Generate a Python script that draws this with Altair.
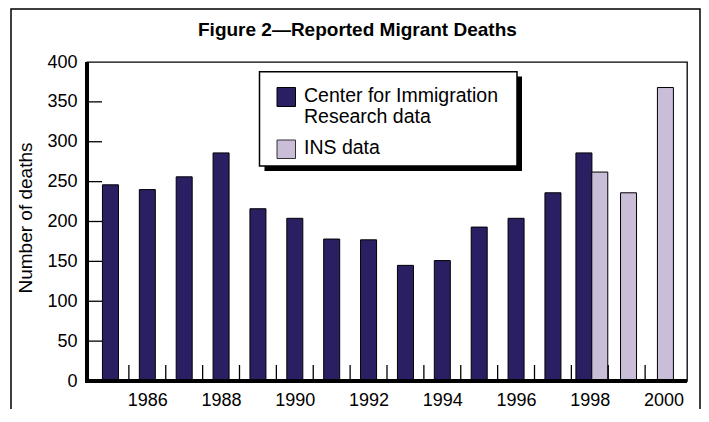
import altair as alt
import pandas as pd

# ---- data ----
cir_years = [1985, 1986, 1987, 1988, 1989, 1990, 1991, 1992, 1993, 1994, 1995, 1996, 1997, 1998]
cir_values = [246, 240, 256, 286, 216, 204, 178, 177, 145, 151, 193, 204, 236, 286]
ins_years = [1998, 1999, 2000]
ins_values = [262, 236, 368]
x_label_values = [1986, 1988, 1990, 1992, 1994, 1996, 1998, 2000]
y_label_values = [0, 50, 100, 150, 200, 250, 300, 350, 400]
y_tick_values = [50, 100, 150, 200, 250, 300, 350]
x_tick_values = [1985.5, 1986.5, 1987.5, 1988.5, 1989.5, 1990.5, 1991.5, 1992.5,
                 1993.5, 1994.5, 1995.5, 1996.5, 1997.5, 1998.5, 1999.5]
series_keys = ["CIR", "INS"]
legend_label_cir = "Center for Immigration\nResearch data"
legend_label_ins = "INS data"
title_text = "Figure 2\u2014Reported Migrant Deaths"
y_title = "Number of deaths"

DARK = "#2b1f64"
LIGHT = "#c9bdd7"
FONT = "Liberation Sans"
W, H = 600, 319

bars_df = pd.DataFrame({
    "year": cir_years + ins_years,
    "deaths": cir_values + ins_values,
    "series": ["CIR"] * len(cir_years) + ["INS"] * len(ins_years),
})

x_scale = alt.Scale(domain=[1984.5, 2000.5], nice=False, zero=False)
y_scale = alt.Scale(domain=[0, 400], nice=False)
x_axis = alt.Axis(values=x_label_values, format="d", title=None, domain=False,
                  ticks=False, tickSize=0, grid=False, labelFontSize=18,
                  labelFont=FONT, labelColor="black", labelPadding=10,
                  labelFlush=False, labelOverlap=False)
y_axis = alt.Axis(values=y_label_values, title=y_title, domain=False, ticks=False,
                  tickSize=0, grid=False, labelFontSize=18, labelFont=FONT,
                  labelColor="black", labelPadding=10, labelOverlap=False,
                  titleFont=FONT, titleFontSize=19, titleFontWeight="normal",
                  titleColor="black", titleX=-56, titleY=155.5,
                  titleBaseline="alphabetic", titleAlign="center")
one = pd.DataFrame({"a": [0]})

frame = alt.Chart(one).mark_rect(filled=False, stroke="black", strokeWidth=1.5).encode(
    x=alt.value(-76), x2=alt.value(613), y=alt.value(-53), y2=alt.value(H + 60)
)

bars = alt.Chart(bars_df).transform_calculate(
    pos="datum.year + (datum.series == 'INS' ? (datum.year == 1998 ? 0.27 : 0.05) : (datum.year == 1998 ? -0.16 : 0))"
).mark_bar(size=16, stroke="black", strokeWidth=1).encode(
    x=alt.X("pos:Q", scale=x_scale, axis=x_axis, title=None),
    y=alt.Y("deaths:Q", scale=y_scale, axis=y_axis, title=y_title),
    color=alt.Color("series:N", scale=alt.Scale(domain=series_keys, range=[DARK, LIGHT]), legend=None),
)

yticks = alt.Chart(pd.DataFrame({"deaths": y_tick_values})).mark_rule(color="black", strokeWidth=1.3).encode(
    y=alt.Y("deaths:Q", scale=y_scale, axis=y_axis, title=y_title), x=alt.value(0), x2=alt.value(15)
)
xticks = alt.Chart(pd.DataFrame({"pos": x_tick_values})).mark_rule(color="black", strokeWidth=1.3).encode(
    x=alt.X("pos:Q", scale=x_scale, axis=x_axis, title=None), y=alt.value(H - 16), y2=alt.value(H)
)

left_axis = alt.Chart(one).mark_rule(color="black", strokeWidth=4).encode(
    x=alt.value(0), y=alt.value(0), y2=alt.value(H + 2)
)
bottom_axis = alt.Chart(one).mark_rule(color="black", strokeWidth=4).encode(
    x=alt.value(-2), x2=alt.value(W), y=alt.value(H)
)

shadow = alt.Chart(one).mark_rect(color="black").encode(
    x=alt.value(177.5), x2=alt.value(435), y=alt.value(14.5), y2=alt.value(109)
)
box = alt.Chart(one).mark_rect(fill="white", stroke="black", strokeWidth=1.5).encode(
    x=alt.value(172.5), x2=alt.value(430), y=alt.value(9.7), y2=alt.value(104)
)
sw1 = alt.Chart(one).mark_rect(fill=DARK, stroke="black", strokeWidth=1).encode(
    x=alt.value(190), x2=alt.value(208.5), y=alt.value(25.5), y2=alt.value(44.5)
)
sw2 = alt.Chart(one).mark_rect(fill=LIGHT, stroke="#333333", strokeWidth=1).encode(
    x=alt.value(190), x2=alt.value(208.5), y=alt.value(78), y2=alt.value(96.5)
)
t1 = alt.Chart(one).mark_text(text=legend_label_cir, lineBreak="\n", lineHeight=21.6, align="left",
                              baseline="alphabetic", font=FONT, fontSize=19.5, color="black").encode(
    x=alt.value(217), y=alt.value(39.7)
)
t2 = alt.Chart(one).mark_text(text=legend_label_ins, align="left", baseline="alphabetic",
                              font=FONT, fontSize=19.5, color="black").encode(
    x=alt.value(217), y=alt.value(92.3)
)
title = alt.Chart(one).mark_text(text=title_text, align="center", baseline="alphabetic",
                                 font=FONT, fontSize=19, fontWeight="bold", color="black").encode(
    x=alt.value(270.4), y=alt.value(-26)
)

chart = alt.layer(
    frame, bars, yticks, xticks, left_axis, bottom_axis, shadow, box, sw1, sw2, t1, t2, title
).properties(
    width=W, height=H,
    autosize=alt.AutoSizeParams(type="none"),
    padding={"left": 79, "top": 54, "right": 14, "bottom": 28},
    background="white",
).configure_view(stroke="black", strokeWidth=1.3)

chart.save("out.html", embed_options={"renderer": "svg", "actions": False})
